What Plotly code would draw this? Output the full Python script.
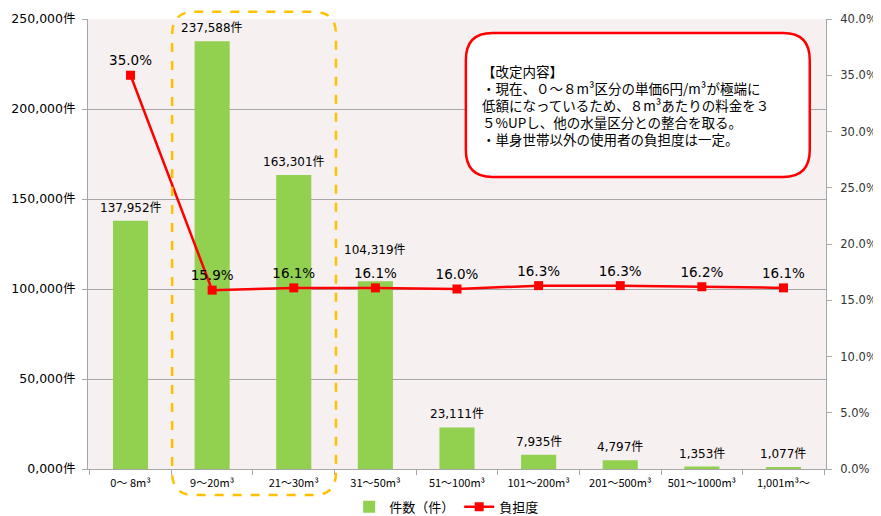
import plotly.graph_objects as go

categories = ["0～ 8m³", "9～20m³", "21～30m³", "31～50m³", "51～100m³",
              "101～200m³", "201～500m³", "501～1000m³", "1,001m³～"]
counts = [137952, 237588, 163301, 104319, 23111, 7935, 4797, 1353, 1077]
burden = [35.0, 15.9, 16.1, 16.1, 16.0, 16.3, 16.3, 16.2, 16.1]

left_ticks = [0, 50000, 100000, 150000, 200000, 250000]
left_labels = ["0,000件", "50,000件", "100,000件", "150,000件", "200,000件", "250,000件"]
right_ticks = [0, 5, 10, 15, 20, 25, 30, 35, 40]

note_lines = [
    "【改定内容】",
    "・現在、０～８m³区分の単価6円/m³が極端に",
    "低額になっているため、８m³あたりの料金を３",
    "５%UPし、他の水量区分との整合を取る。",
    "・単身世帯以外の使用者の負担度は一定。",
]

_FONT = "Noto Sans CJK JP, sans-serif"
_NUM_FONT = "DejaVu Sans, Noto Sans CJK JP, sans-serif"
_GREEN = "#92d050"
_RED = "#ff0000"
_GRID = "#a6a6a6"


def rounded_rect(x0, x1, y0, y1, rx, ry):
    """SVG path for a rounded rectangle (paper coords)."""
    return (f"M {x0 + rx},{y1} L {x1 - rx},{y1} Q {x1},{y1} {x1},{y1 - ry} "
            f"L {x1},{y0 + ry} Q {x1},{y0} {x1 - rx},{y0} "
            f"L {x0 + rx},{y0} Q {x0},{y0} {x0},{y0 + ry} "
            f"L {x0},{y1 - ry} Q {x0},{y1} {x0 + rx},{y1} Z")


fig = go.Figure()
fig.add_trace(go.Bar(
    x=categories, y=counts, name="件数（件）",
    marker=dict(color=_GREEN, line_width=0),
))
fig.add_trace(go.Scatter(
    x=categories, y=burden, name="負担度", yaxis="y2",
    mode="lines+markers+text",
    line=dict(color=_RED, width=2.5),
    marker=dict(symbol="square", size=9, color=_RED),
    text=[f"{v:.1f}%" for v in burden], textposition="top center",
    textfont=dict(size=13.5, color="#000000", family=_NUM_FONT),
    cliponaxis=False,
))

# bar value labels (31～50m³ lifted clear of the percentage label)
for i, (cat, v) in enumerate(zip(categories, counts)):
    fig.add_annotation(x=cat, y=v, yref="y", text=f"{v:,}件", showarrow=False,
                       yanchor="bottom", yshift=22 if i == 3 else 4,
                       font=dict(size=12, color="#000000", family=_NUM_FONT))

# red rounded note box
fig.add_shape(type="path", xref="paper", yref="paper",
              path=rounded_rect(0.512, 0.978, 0.649, 0.969, 0.036, 0.06),
              line=dict(color=_RED, width=2.5), fillcolor="white", layer="above")
for k, line in enumerate(note_lines):
    fig.add_annotation(xref="paper", yref="paper", x=0.531, y=0.884 - k * 0.0378,
                       xanchor="left", yanchor="middle", align="left",
                       text=line, showarrow=False,
                       font=dict(size=13.5, color="#000000", family=_FONT))

# orange dashed highlight around 9～30m³
fig.add_shape(type="path", xref="paper", yref="paper",
              path=rounded_rect(0.114, 0.336, -0.058, 1.016, 0.03, 0.05),
              line=dict(color="#ffc000", width=2.5, dash="dash"), layer="above")

# page body adds an 8px offset, so the figure is 8px smaller than the window
fig.update_layout(
    width=873, height=508,
    margin=dict(l=80, r=55, t=11, b=47, autoexpand=False),
    paper_bgcolor="white",
    plot_bgcolor="#f6f0f0",
    font=dict(family=_FONT, size=12, color="#000000"),
    bargap=0.57,
    showlegend=True,
    legend=dict(orientation="h", x=0.486, y=-0.084, xanchor="center", yanchor="middle",
                font=dict(size=13), bgcolor="rgba(0,0,0,0)"),
    xaxis=dict(
        type="category", showgrid=False, showline=True, linecolor=_GRID,
        ticks="outside", tickson="boundaries", ticklen=5, tickcolor=_GRID,
        tickfont=dict(size=11), automargin=False, ticklabelstandoff=4,
    ),
    yaxis=dict(
        range=[0, 250000], tickvals=left_ticks, ticktext=left_labels,
        showgrid=True, gridcolor=_GRID, gridwidth=1,
        showline=True, linecolor=_GRID, ticks="outside", ticklen=5, tickcolor=_GRID,
        tickfont=dict(size=12.5, family=_NUM_FONT), zeroline=False, automargin=False,
        ticklabelstandoff=4,
    ),
    yaxis2=dict(
        range=[0, 40], tickvals=right_ticks, ticktext=[f"{v:.1f}%" for v in right_ticks],
        overlaying="y", side="right", showgrid=False,
        showline=True, linecolor=_GRID, ticks="outside", ticklen=5, tickcolor=_GRID,
        tickfont=dict(size=11.5, color="#333333", family=_NUM_FONT), zeroline=False,
        automargin=False, ticklabelstandoff=6,
    ),
)

fig.write_html("out.html")
